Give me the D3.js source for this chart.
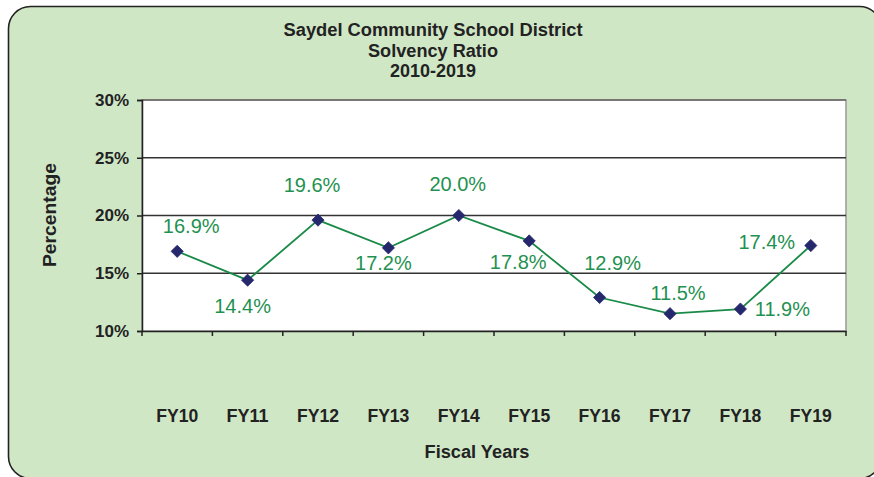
<!DOCTYPE html>
<html><head><meta charset="utf-8">
<script src="https://cdn.jsdelivr.net/npm/d3@7"></script>
<style>
html,body{margin:0;padding:0;background:#fff;}
svg{display:block;}
</style></head>
<body>
<svg id="chart" width="874" height="477"></svg>
<script>
const titleLines = ["Saydel Community School District", "Solvency Ratio", "2010-2019"];
const categories = ["FY10","FY11","FY12","FY13","FY14","FY15","FY16","FY17","FY18","FY19"];
const values = [16.9, 14.4, 19.6, 17.2, 20.0, 17.8, 12.9, 11.5, 11.9, 17.4];
const yTicks = [10, 15, 20, 25, 30];
const xTitle = "Fiscal Years";
const yTitle = "Percentage";
// label placement (layout only)
const labelDx = [14, -5, -6, -5, -1, -11, 13, 8, 42, -44];
const labelDy = [-26, 26, -35, 15, -32, 21, -35, -21, 0, -4];
const titleWidths = [299, 130, 86];

const svg = d3.select("#chart");
const plot = {left: 142, right: 846, top: 100, bottom: 331};
const font = "'Liberation Sans',Arial,sans-serif";

// outer frame
svg.append("rect").attr("x", 8.5).attr("y", 6.5).attr("width", 873).attr("height", 472)
  .attr("rx", 22).attr("ry", 22)
  .attr("fill", "#d0e7c6").attr("stroke", "#222").attr("stroke-width", 1.6);

// title
svg.append("g").selectAll("text").data(titleLines).join("text")
  .attr("x", 433).attr("y", (d,i) => 36 + i*20.5)
  .attr("text-anchor", "middle")
  .attr("font-family", font).attr("font-weight", "bold").attr("font-size", 17.5)
  .attr("textLength", (d,i) => titleWidths[i]).attr("lengthAdjust", "spacingAndGlyphs")
  .attr("fill", "#222").text(d => d);

const x = d3.scaleBand().domain(categories).range([plot.left, plot.right]);
const y = d3.scaleLinear().domain([10, 30]).range([plot.bottom, plot.top]);

// plot area
svg.append("rect").attr("x", plot.left).attr("y", plot.top)
  .attr("width", plot.right - plot.left).attr("height", plot.bottom - plot.top)
  .attr("fill", "#fff").attr("stroke", "#999").attr("stroke-width", 1.5);

// gridlines
svg.append("g").selectAll("line").data(yTicks.filter(d => d > 10)).join("line")
  .attr("x1", plot.left).attr("x2", plot.right)
  .attr("y1", d => y(d)).attr("y2", d => y(d))
  .attr("stroke", d => d === 30 ? "#666" : "#333").attr("stroke-width", 1.5);

// y axis
const yAxis = d3.axisLeft(y).tickValues(yTicks).tickFormat(d => d + "%").tickSize(5).tickPadding(8);
const gy = svg.append("g").attr("transform", `translate(${plot.left},0)`).call(yAxis);
gy.select(".domain").attr("stroke", "#222").attr("stroke-width", 1.5);
gy.selectAll(".tick line").attr("stroke", "#222").attr("stroke-width", 1.5);
gy.selectAll(".tick text").attr("font-family", font)
  .attr("font-weight", "bold").attr("font-size", 17).attr("fill", "#222");

// x axis
const xAxis = d3.axisBottom(x).tickSize(0).tickPadding(0);
const gx = svg.append("g").attr("transform", `translate(0,${plot.bottom})`).call(xAxis);
gx.select(".domain").attr("stroke", "#222").attr("stroke-width", 1.5);
gx.selectAll(".tick text").attr("dy", 0).attr("y", 91)
  .attr("font-family", font).attr("font-weight", "bold").attr("font-size", 18)
  .attr("textLength", 42).attr("lengthAdjust", "spacingAndGlyphs").attr("fill", "#222");
// category boundary ticks
const bounds = categories.map(c => x(c)).concat([plot.right]);
gx.append("g").selectAll("line").data(bounds).join("line")
  .attr("x1", d => d).attr("x2", d => d).attr("y1", 0).attr("y2", 5)
  .attr("stroke", "#222").attr("stroke-width", 1.5);

// axis titles
svg.append("text").attr("x", 477).attr("y", 458).attr("text-anchor", "middle")
  .attr("font-family", font).attr("font-weight", "bold").attr("font-size", 18)
  .attr("textLength", 105).attr("lengthAdjust", "spacingAndGlyphs")
  .attr("fill", "#222").text(xTitle);
svg.append("text").attr("transform", `translate(56,215) rotate(-90)`).attr("text-anchor", "middle")
  .attr("font-family", font).attr("font-weight", "bold").attr("font-size", 17.5)
  .attr("textLength", 104).attr("lengthAdjust", "spacingAndGlyphs")
  .attr("fill", "#222").text(yTitle);

// line
const cx = d => x(d) + x.bandwidth()/2;
svg.append("path").datum(values.map((v,i) => [cx(categories[i]), y(v)]))
  .attr("d", d3.line()).attr("fill", "none").attr("stroke", "#1a8a48").attr("stroke-width", 1.8);

// markers
svg.append("g").selectAll("path").data(values).join("path")
  .attr("transform", (d,i) => `translate(${cx(categories[i])},${y(d)})`)
  .attr("d", d3.symbol().type(d3.symbolDiamond2).size(95))
  .attr("fill", "#26286e").attr("stroke", "#26286e").attr("stroke-width", 0.8);

// labels
svg.append("g").selectAll("text").data(values).join("text")
  .attr("x", (d,i) => cx(categories[i]) + labelDx[i])
  .attr("y", (d,i) => y(d) + labelDy[i])
  .attr("dy", "0.36em").attr("text-anchor", "middle")
  .attr("font-family", font).attr("font-size", 20)
  .attr("fill", "#1f9150").text(d => d.toFixed(1) + "%");
</script>
</body></html>
